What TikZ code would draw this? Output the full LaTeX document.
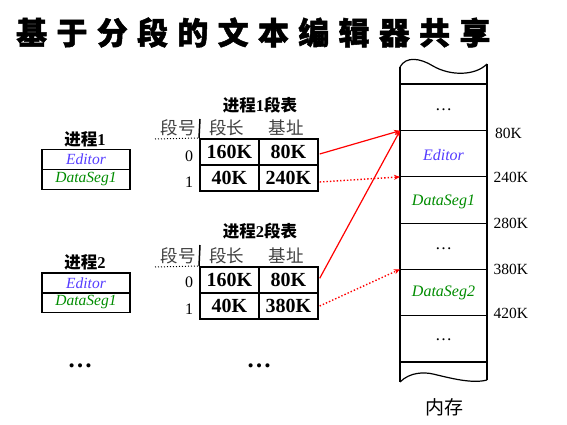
\documentclass[tikz,border=0pt]{standalone}
\usepackage{fontspec}
\setmainfont{Liberation Serif}
\newfontfamily\cjk{Noto Sans CJK SC}
\newfontfamily\cjktitle[LetterSpace=30,BoldFeatures={FakeBold=1.6}]{Noto Sans CJK SC}
\usetikzlibrary{arrows.meta}
\definecolor{edcol}{RGB}{85,60,255}
\definecolor{dscol}{RGB}{0,140,0}
\begin{document}
\begin{tikzpicture}[x=1pt,y=-1pt,
  cell/.style={draw,line width=2pt,minimum width=58.7pt,minimum height=26pt,inner sep=0pt,font=\fontsize{20}{20}\selectfont\bfseries},
  pcell/.style={draw,line width=1.8pt,minimum width=88pt,minimum height=20pt,inner sep=0pt,font=\fontsize{15.5}{15.5}\selectfont\itshape},
  plab/.style={inner sep=0pt,font=\fontsize{16.5}{16.5}\selectfont\bfseries},
  hdr/.style={inner sep=0pt,text=black!75,font=\cjk\fontsize{17.5}{17.5}\selectfont},
  rowlab/.style={inner sep=0pt,font=\fontsize{16}{16}\selectfont},
  memtxt/.style={inner sep=0pt,font=\fontsize{16}{16}\selectfont\itshape},
  memdots/.style={inner sep=0pt,font=\fontsize{17}{17}\selectfont},
  addr/.style={anchor=west,inner sep=0pt,font=\fontsize{15.5}{15.5}\selectfont},
  bigdots/.style={inner sep=0pt,font=\fontsize{25}{25}\selectfont\bfseries},
  arr/.style={red,line width=1.2pt,-{Stealth[length=6pt,width=5pt]}},
  darr/.style={red,line width=1.4pt,dash pattern=on 1.4pt off 2pt,-{Stealth[length=6pt,width=5pt]}}
]
\useasboundingbox (0,0) rectangle (567,425);
% title
\node[anchor=west,inner sep=0pt,font=\cjktitle\bfseries\fontsize{31}{31}\selectfont] (title) at (16,32.5) {基于分段的文本编辑器共享};

% process 1
\node[plab] (p1lab) at (85,139) {{\cjk 进程}1};
\node[pcell,text=edcol] (p1e) at (86,159.5) {Editor};
\node[pcell,text=dscol] (p1d) at (86,179.5) {DataSeg1};

% process 2
\node[plab] (p2lab) at (85,262.5) {{\cjk 进程}2};
\node[pcell,text=edcol] (p2e) at (86,283) {Editor};
\node[pcell,text=dscol] (p2d) at (86,302.5) {DataSeg1};

% table 1
\node[plab] (t1title) at (260,105.5) {{\cjk 进程}1{\cjk 段表}};
\node[hdr] (t1h0) at (178,128) {段号};
\node[hdr] (t1h1) at (226.5,128) {段长};
\node[hdr] (t1h2) at (286,128) {基址};
\node[cell] (t1a0) at (229.35,152) {160K};
\node[cell] (t1a) at (288.35,152) {80K};
\node[cell] (t1b0) at (229.35,178) {40K};
\node[cell] (t1b) at (288.35,178) {240K};
\node[rowlab] (t1r0) at (189,156) {0};
\node[rowlab] (t1r1) at (189,182.7) {1};
\coordinate (t1v) at (200,119);
\coordinate (t1dl) at (155,139);
\draw[line width=1.5pt] (t1v) -- (t1a0.north west);
\draw[line width=1pt,dotted] (t1dl) -- (t1a0.north west);

% table 2
\node[plab] (t2title) at (260,231.5) {{\cjk 进程}2{\cjk 段表}};
\node[hdr] (t2h0) at (178,255.5) {段号};
\node[hdr] (t2h1) at (226.5,255.5) {段长};
\node[hdr] (t2h2) at (286,255.5) {基址};
\node[cell] (t2a0) at (229.35,280) {160K};
\node[cell] (t2a) at (288.35,280) {80K};
\node[cell] (t2b0) at (229.35,306) {40K};
\node[cell] (t2b) at (288.35,306) {380K};
\node[rowlab] (t2r0) at (189,282.7) {0};
\node[rowlab] (t2r1) at (189,309.3) {1};
\coordinate (t2v) at (200,245);
\coordinate (t2dl) at (155,267);
\draw[line width=1.5pt] (t2v) -- (t2a0.north west);
\draw[line width=1pt,dotted] (t2dl) -- (t2a0.north west);

% memory
\coordinate (mtl) at (400,67);
\coordinate (mtr) at (487,64);
\coordinate (mbl) at (400,382);
\coordinate (mbr) at (487,380);
\draw[line width=1.2pt] (mtl) .. controls (406,56) and (420,58) .. (433,66) .. controls (450,76) and (475,76) .. (mtr);
\draw[line width=1.2pt] (mbl) .. controls (410,372) and (424,372) .. (433,374) .. controls (450,378) and (472,384) .. (mbr);
\draw[line width=2pt] (mtl) -- (mbl);
\draw[line width=2pt] (mtr) -- (mbr);
\coordinate (m0) at (400,84.5);
\coordinate (m80) at (400,130.7);
\coordinate (m240) at (400,176.9);
\coordinate (m280) at (400,223.1);
\coordinate (m380) at (400,269.3);
\coordinate (m420) at (400,315.5);
\coordinate (m9) at (400,361.7);
\draw[line width=2pt] (m0) -- ++(87,0);
\draw[line width=2pt] (m9) -- ++(87,0);
\foreach \c in {m80,m240,m280,m380,m420} \draw[line width=1pt] (\c) -- ++(87,0);
\node[memdots] (md1) at (443.5,110) {…};
\node[memtxt,text=edcol] (me) at (443.5,155) {Editor};
\node[memtxt,text=dscol] (md) at (443.5,201.5) {DataSeg1};
\node[memdots] (md2) at (443.5,248.5) {…};
\node[memtxt,text=dscol] (md3) at (443.5,292.7) {DataSeg2};
\node[memdots] (md4) at (443.5,340) {…};
\node[addr] (a80) at (495,133) {80K};
\node[addr] (a240) at (493.5,177) {240K};
\node[addr] (a280) at (493.5,223) {280K};
\node[addr] (a380) at (493.5,269) {380K};
\node[addr] (a420) at (493.5,313.5) {420K};
\node[inner sep=0pt,font=\cjk\fontsize{19}{19}\selectfont] (mem) at (444,407.5) {内存};

% bottom dots
\node[bigdots] (dots1) at (80,366) {…};
\node[bigdots] (dots2) at (259,366) {…};

% arrows
\draw[arr] ([shift={(1,2)}]t1a.east) -- (m80);
\draw[darr] ([shift={(1,4)}]t1b.east) -- (m240);
\draw[arr] ([shift={(1,-1.7)}]t2a.east) -- (m80);
\draw[darr] ([shift={(1,0)}]t2b.east) -- (m380);
\end{tikzpicture}
\end{document}
